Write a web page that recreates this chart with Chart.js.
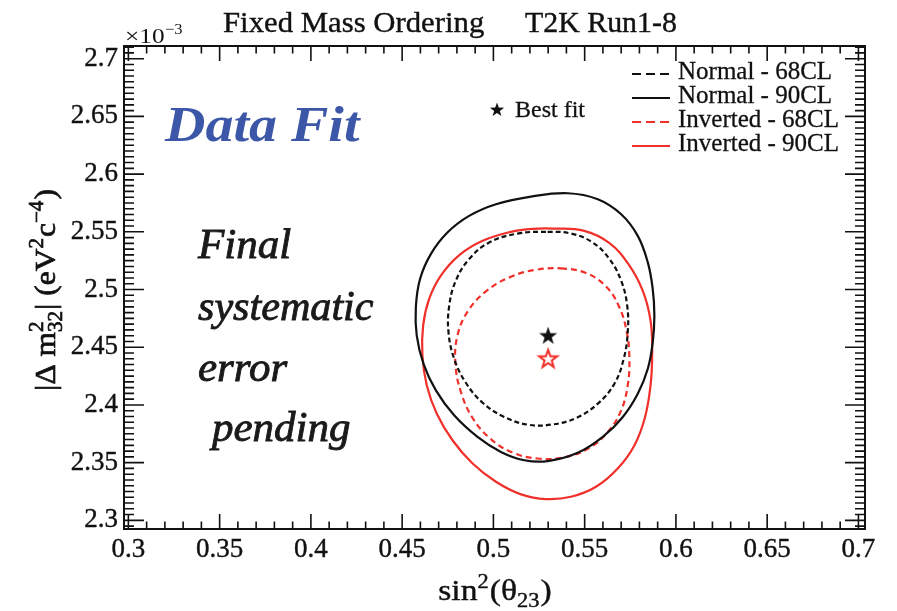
<!DOCTYPE html>
<html>
<head>
<meta charset="utf-8">
<script src="https://cdn.jsdelivr.net/npm/chart.js@4.4.1/dist/chart.umd.min.js"></script>
<style>
  html, body { margin: 0; padding: 0; background: #fff; }
</style>
</head>
<body>
<canvas id="contours" width="897" height="611"></canvas>
<script>
// sin^2(theta23) vs |dm^2_32| (x1e-3 eV^2)
const normal68X = [0.5297, 0.5425, 0.5544, 0.5636, 0.5700, 0.5733, 0.5736, 0.5714, 0.5663, 0.5572, 0.5453, 0.5316, 0.5188, 0.5059, 0.4941, 0.4849, 0.4785, 0.4754, 0.4758, 0.4794, 0.4867, 0.4977, 0.5133];
const normal68Y = [2.5500, 2.5485, 2.5407, 2.5264, 2.5076, 2.4860, 2.4630, 2.4400, 2.4184, 2.4011, 2.3887, 2.3829, 2.3829, 2.3896, 2.4019, 2.4192, 2.4400, 2.4630, 2.4860, 2.5076, 2.5264, 2.5408, 2.5485];

const normal90X = [0.5407, 0.5572, 0.5700, 0.5791, 0.5846, 0.5873, 0.5882, 0.5873, 0.5846, 0.5791, 0.5709, 0.5599, 0.5462, 0.5297, 0.5169, 0.5041, 0.4913, 0.4785, 0.4685, 0.4617, 0.4580, 0.4575, 0.4598, 0.4657, 0.4748, 0.4867, 0.5014, 0.5206];
const normal90Y = [2.5834, 2.5782, 2.5652, 2.5465, 2.5235, 2.5004, 2.4774, 2.4544, 2.4313, 2.4097, 2.3896, 2.3723, 2.3585, 2.3513, 2.3521, 2.3593, 2.3723, 2.3910, 2.4126, 2.4356, 2.4601, 2.4846, 2.5091, 2.5307, 2.5494, 2.5638, 2.5739, 2.5805];

const inverted68X = [0.5370, 0.5507, 0.5617, 0.5690, 0.5731, 0.5745, 0.5736, 0.5700, 0.5630, 0.5526, 0.5389, 0.5242, 0.5105, 0.4983, 0.4886, 0.4822, 0.4792, 0.4803, 0.4862, 0.4964, 0.5096, 0.5233];
const inverted68Y = [2.5183, 2.5143, 2.5027, 2.4846, 2.4630, 2.4400, 2.4169, 2.3953, 2.3772, 2.3628, 2.3547, 2.3536, 2.3587, 2.3708, 2.3887, 2.4112, 2.4356, 2.4601, 2.4817, 2.4990, 2.5111, 2.5171];

const inverted90X = [0.5334, 0.5498, 0.5636, 0.5740, 0.5818, 0.5861, 0.5870, 0.5861, 0.5831, 0.5773, 0.5681, 0.5562, 0.5425, 0.5288, 0.5151, 0.5014, 0.4886, 0.4776, 0.4690, 0.4635, 0.4611, 0.4615, 0.4648, 0.4712, 0.4813, 0.4941, 0.5096, 0.5215];
const inverted90Y = [2.5528, 2.5508, 2.5402, 2.5220, 2.4990, 2.4731, 2.4457, 2.4169, 2.3896, 2.3651, 2.3449, 2.3291, 2.3204, 2.3184, 2.3225, 2.3334, 2.3492, 2.3694, 2.3924, 2.4169, 2.4428, 2.4688, 2.4918, 2.5120, 2.5298, 2.5422, 2.5500, 2.5526];

const bestFitNormal = [0.530, 2.460];
const bestFitInverted = [0.530, 2.440];

const seriesLabels = ['Normal - 68CL', 'Normal - 90CL', 'Inverted - 68CL', 'Inverted - 90CL'];

const xRange = [0.2976, 0.7036];
const yRange = [2.2925, 2.7110];
const majorStep = 0.05;
const xMinorStep = 0.01;
const yMinorStep = 0.005;

const RED = '#f0302a';
const BLACK = '#111111';
const SERIF = "'Liberation Serif', 'Times New Roman', serif";

function starPath(ctx, cx, cy, R) {
    const r = R * 0.4;
    ctx.beginPath();
    for (let i = 0; i < 10; i++) {
        const rad = i % 2 === 0 ? R : r;
        const a = -Math.PI / 2 + i * Math.PI / 5;
        const px = cx + rad * Math.cos(a), py = cy + rad * Math.sin(a);
        if (i === 0) ctx.moveTo(px, py); else ctx.lineTo(px, py);
    }
    ctx.closePath();
}

function starImage(color, filled) {
    const c = document.createElement('canvas');
    c.width = 24; c.height = 24;
    const g = c.getContext('2d');
    starPath(g, 12, 12.5, 9.5);
    if (filled) { g.fillStyle = color; g.fill(); }
    else { g.strokeStyle = color; g.lineWidth = 2; g.stroke(); }
    return c;
}

function text(ctx, str, x, y, font, color, sx, bolder) {
    ctx.save();
    ctx.font = font;
    ctx.fillStyle = color;
    ctx.translate(x, y);
    ctx.scale(sx || 1, 1);
    ctx.fillText(str, 0, 0);
    if (bolder) {
        ctx.strokeStyle = color;
        ctx.lineWidth = bolder;
        ctx.strokeText(str, 0, 0);
    }
    ctx.restore();
}

// parts: {t} normal, {sup, sub} small raised / lowered (stacked when both)
function richWidth(ctx, parts, big, small) {
    let w = 0;
    parts.forEach(p => {
        if (p.t) { ctx.font = big; w += ctx.measureText(p.t).width; }
        else {
            ctx.font = small;
            w += Math.max(p.sup ? ctx.measureText(p.sup).width : 0, p.sub ? ctx.measureText(p.sub).width : 0) + 1;
        }
    });
    return w;
}

function rich(ctx, parts, x, y, big, small, bolder) {
    let cx = x;
    const put = (s, px, py) => {
        ctx.fillText(s, px, py);
        if (bolder) ctx.strokeText(s, px, py);
    };
    ctx.lineWidth = bolder || 1;
    parts.forEach(p => {
        if (p.t) { ctx.font = big; put(p.t, cx, y); cx += ctx.measureText(p.t).width; }
        else {
            ctx.font = small;
            let w = 0;
            if (p.sup) { put(p.sup, cx, y - 12); w = ctx.measureText(p.sup).width; }
            if (p.sub) { put(p.sub, cx, y + 7); w = Math.max(w, ctx.measureText(p.sub).width); }
            cx += w + 1;
        }
    });
}

const roundTick = v => String(Math.round(v * 1000) / 1000);

// contours are closed curves: let the line element spline them as a loop (like radar does)
const closeContours = {
    id: 'closeContours',
    afterDatasetUpdate(chart, args) {
        const line = args.meta.dataset;
        if (line && chart.data.datasets[args.index].closed) {
            line._loop = true;
            line._fullLoop = true;
        }
    }
};

const rootFrame = {
    id: 'rootFrame',
    afterDraw(chart) {
        const ctx = chart.ctx;
        const a = chart.chartArea;
        const xs = chart.scales.x, ys = chart.scales.y;
        ctx.save();
        ctx.strokeStyle = BLACK;

        // ticks inside the frame, on all four sides
        ctx.lineWidth = 1.6;
        ctx.beginPath();
        const xStart = Math.ceil(xs.min / xMinorStep - 1e-6);
        for (let k = xStart; k * xMinorStep <= xs.max + 1e-9; k++) {
            const v = k * xMinorStep;
            const major = Math.abs(v / majorStep - Math.round(v / majorStep)) < 1e-6;
            const len = major ? 15 : 7.5;
            const px = xs.getPixelForValue(v);
            ctx.moveTo(px, a.bottom); ctx.lineTo(px, a.bottom - len);
            ctx.moveTo(px, a.top); ctx.lineTo(px, a.top + len);
        }
        const yStart = Math.ceil(ys.min / yMinorStep - 1e-6);
        for (let k = yStart; k * yMinorStep <= ys.max + 1e-9; k++) {
            const v = k * yMinorStep;
            const major = Math.abs(v / majorStep - Math.round(v / majorStep)) < 1e-6;
            const len = major ? 20 : 10;
            const py = ys.getPixelForValue(v);
            ctx.moveTo(a.left, py); ctx.lineTo(a.left + len, py);
            ctx.moveTo(a.right, py); ctx.lineTo(a.right - len, py);
        }
        ctx.stroke();

        ctx.lineWidth = 2;
        ctx.strokeRect(a.left, a.top, a.right - a.left, a.bottom - a.top);

        // title and exponent
        ctx.textBaseline = 'alphabetic';
        text(ctx, 'Fixed Mass Ordering', 223, 32, '29px ' + SERIF, BLACK, 1.06, 0.4);
        text(ctx, 'T2K Run1-8', 525, 32, '29px ' + SERIF, BLACK, 1.03, 0.4);
        text(ctx, '\u00d710', 125, 43, '22px ' + SERIF, BLACK, 1.15);
        text(ctx, '\u22123', 165, 34, '15px ' + SERIF, BLACK, 1.1);

        // annotations
        text(ctx, 'Data Fit', 165, 141, 'italic bold 50px ' + SERIF, '#3d57a8', 1.12);
        const note = 'italic 43px ' + SERIF;
        text(ctx, 'Final', 198, 258, note, '#1a1a1a', 1.0, 0.9);
        text(ctx, 'systematic', 198, 320, note, '#1a1a1a', 0.98, 0.9);
        text(ctx, 'error', 198, 381, note, '#1a1a1a', 1.0, 0.9);
        text(ctx, 'pending', 212, 441, note, '#1a1a1a', 1.0, 0.9);

        // legend
        const rows = [74, 98, 122, 146];
        chart.data.datasets.slice(0, 4).forEach((ds, i) => {
            ctx.strokeStyle = ds.borderColor;
            ctx.lineWidth = 2;
            ctx.setLineDash(ds.borderDash.length ? [9, 5] : []);
            ctx.beginPath();
            ctx.moveTo(632, rows[i]); ctx.lineTo(670, rows[i]);
            ctx.stroke();
            ctx.setLineDash([]);
            ctx.textBaseline = 'middle';
            text(ctx, ds.label, 678, rows[i] - 2, '25px ' + SERIF, BLACK, 1.0, 0.3);
        });
        ctx.fillStyle = BLACK;
        starPath(ctx, 497, 110, 7.5);
        ctx.fill();
        text(ctx, 'Best fit', 515, 111, '24px ' + SERIF, BLACK, 1.0, 0.3);

        // axis titles
        ctx.textBaseline = 'alphabetic';
        ctx.fillStyle = BLACK;
        ctx.strokeStyle = BLACK;
        const big = '30px ' + SERIF, small = '20px ' + SERIF;
        const xt = [{ t: 'sin' }, { sup: '2' }, { t: '(\u03b8' }, { sub: '23' }, { t: ')' }];
        const xw = richWidth(ctx, xt, big, small) * 1.12;
        ctx.save();
        ctx.translate(495 - xw / 2, 600);
        ctx.scale(1.12, 1);
        rich(ctx, xt, 0, 0, big, small, 0.4);
        ctx.restore();

        const yt = [{ t: '|\u0394 m' }, { sup: '2', sub: '32' }, { t: '| (eV' }, { sup: '2' }, { t: 'c' }, { sup: '\u22124' }, { t: ')' }];
        const yw = richWidth(ctx, yt, big, small) * 1.05;
        ctx.save();
        ctx.translate(55, 290);
        ctx.rotate(-Math.PI / 2);
        ctx.translate(-yw / 2, 0);
        ctx.scale(1.05, 1);
        rich(ctx, yt, 0, 0, big, small, 0.7);
        ctx.restore();

        ctx.restore();
    }
};

const contourLine = (label, xs, ys, color, dash) => ({
    label,
    closed: true,
    data: xs.map((x, i) => ({ x, y: ys[i] })),
    showLine: true,
    borderColor: color,
    borderWidth: 2.2,
    borderDash: dash,
    pointRadius: 0,
    tension: 0.4,
    fill: false
});

const tickFont = { family: SERIF, size: 27 };

new Chart(document.getElementById('contours'), {
    type: 'scatter',
    data: {
        datasets: [
            contourLine(seriesLabels[0], normal68X, normal68Y, BLACK, [5, 3]),
            contourLine(seriesLabels[1], normal90X, normal90Y, BLACK, []),
            contourLine(seriesLabels[2], inverted68X, inverted68Y, RED, [6, 4]),
            contourLine(seriesLabels[3], inverted90X, inverted90Y, RED, []),
            {
                label: 'Best fit NO',
                data: [{ x: bestFitNormal[0], y: bestFitNormal[1] }],
                pointStyle: starImage(BLACK, true),
                showLine: false
            },
            {
                label: 'Best fit IO',
                data: [{ x: bestFitInverted[0], y: bestFitInverted[1] }],
                pointStyle: starImage(RED, false),
                showLine: false
            }
        ]
    },
    options: {
        responsive: false,
        devicePixelRatio: 1,
        animation: false,
        layout: { padding: { top: 46, right: 32, left: 0, bottom: 0 } },
        plugins: {
            legend: { display: false },
            tooltip: { enabled: false }
        },
        scales: {
            x: {
                type: 'linear',
                min: xRange[0],
                max: xRange[1],
                afterFit: (s) => { s.height = 82; },
                grid: { display: false, drawTicks: false },
                border: { display: false },
                ticks: {
                    stepSize: majorStep,
                    includeBounds: false,
                    padding: 5,
                    color: BLACK,
                    textStrokeColor: BLACK,
                    textStrokeWidth: 0.4,
                    font: tickFont,
                    maxRotation: 0,
                    autoSkip: false,
                    callback: roundTick
                }
            },
            y: {
                type: 'linear',
                min: yRange[0],
                max: yRange[1],
                afterFit: (s) => { s.width = 124; },
                grid: { display: false, drawTicks: false },
                border: { display: false },
                ticks: {
                    stepSize: majorStep,
                    includeBounds: false,
                    padding: 6,
                    color: BLACK,
                    textStrokeColor: BLACK,
                    textStrokeWidth: 0.4,
                    font: tickFont,
                    autoSkip: false,
                    callback: roundTick
                }
            }
        }
    },
    plugins: [closeContours, rootFrame]
});
</script>
</body>
</html>
